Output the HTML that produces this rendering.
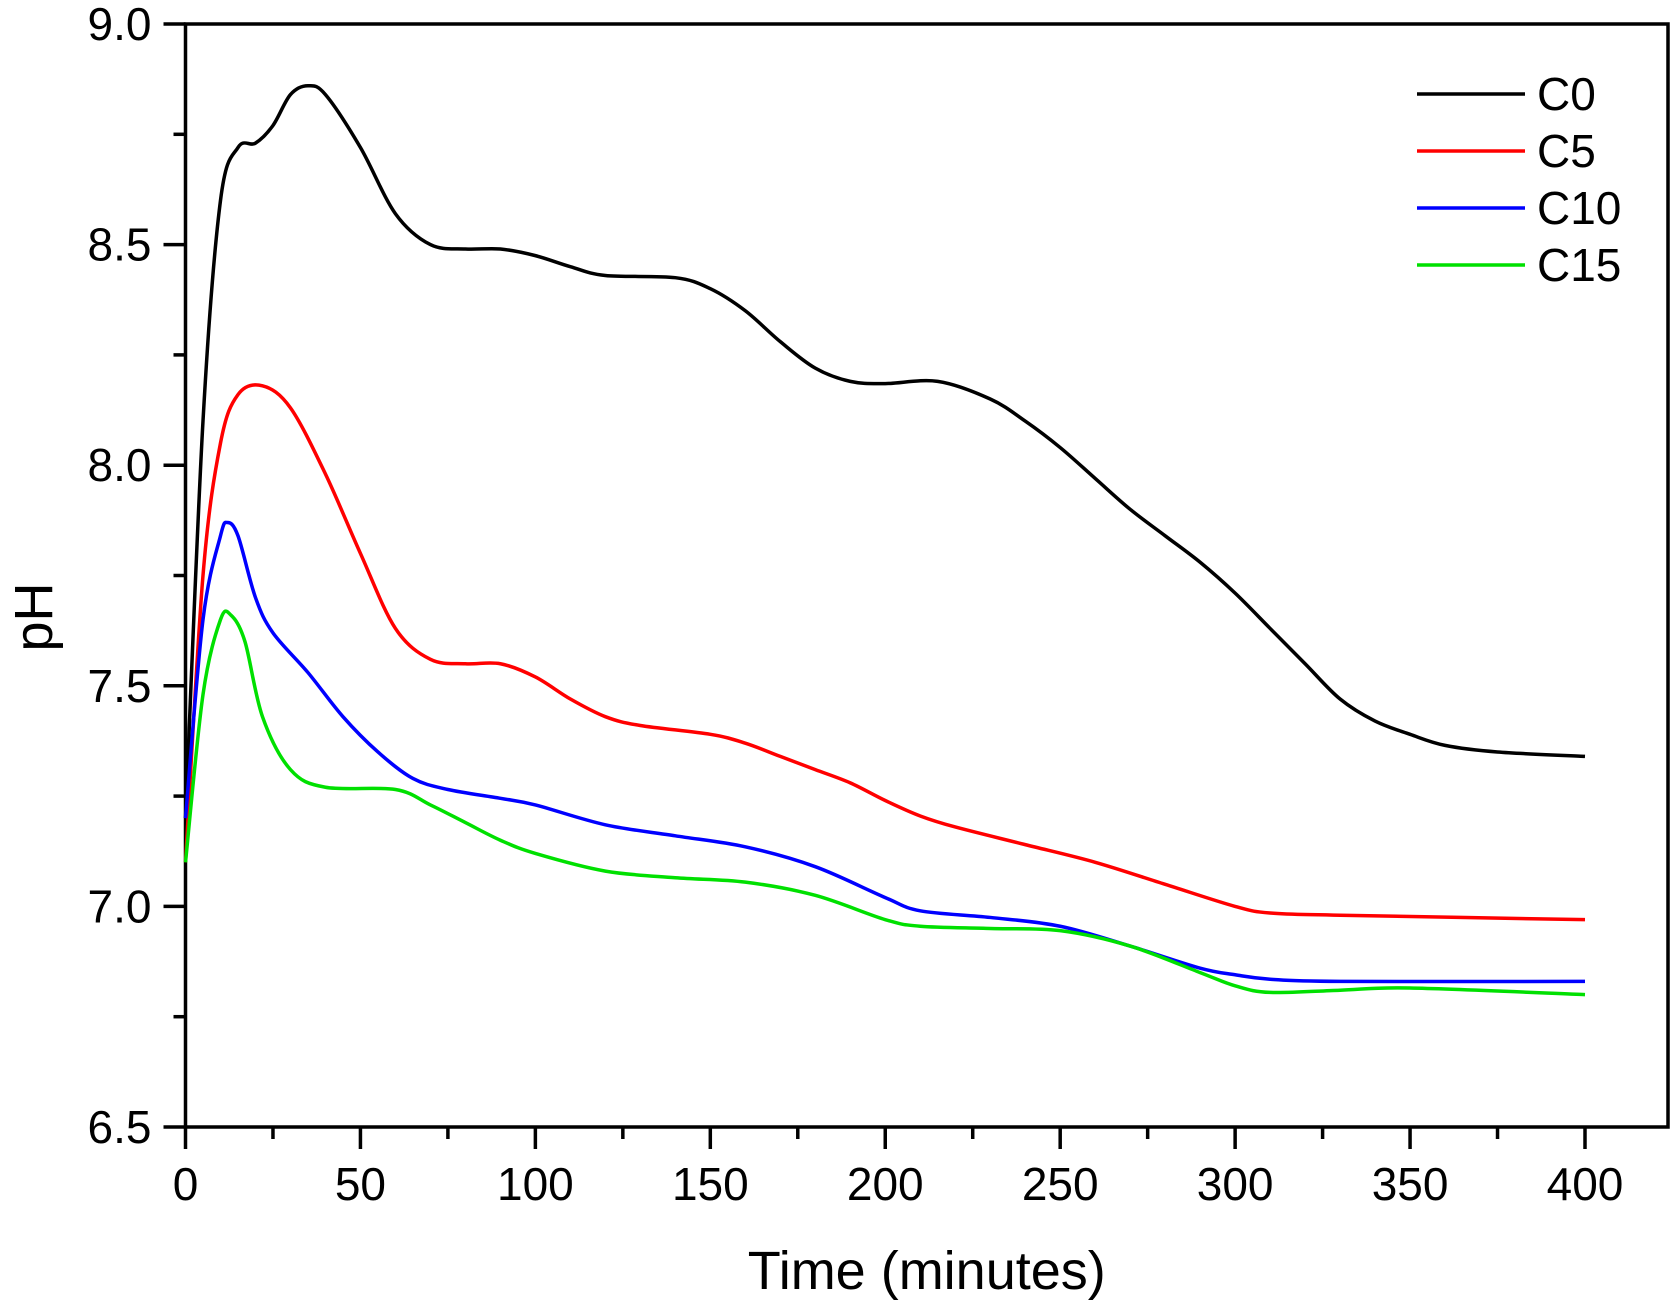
<!DOCTYPE html>
<html><head><meta charset="utf-8"><style>
body{margin:0;background:#fff}
text{font-family:"Liberation Sans",Arial,sans-serif;fill:#000}
</style></head><body>
<svg id="chart" width="1675" height="1305" viewBox="0 0 1675 1305" xmlns="http://www.w3.org/2000/svg">
<g id="axes"></g>
<g id="series"></g>
<g id="legend"></g>
</svg>
<script>
const c0T=[0,5,10,15,20,25,30,35,40,50,60,70,80,90,100,110,120,140,150,160,170,180,190,200,215,230,240,250,260,270,280,290,300,310,320,330,340,350,360,375,400];
const c0V=[7.2,8.1,8.6,8.72,8.73,8.77,8.84,8.86,8.84,8.72,8.57,8.5,8.49,8.49,8.475,8.45,8.43,8.425,8.4,8.35,8.28,8.22,8.19,8.185,8.19,8.15,8.1,8.04,7.97,7.9,7.84,7.78,7.71,7.63,7.55,7.47,7.42,7.39,7.365,7.35,7.34];
const c5T=[0,5,10,15,22,30,40,50,60,70,80,90,100,110,120,130,150,160,170,180,190,200,210,220,240,260,280,300,310,330,400];
const c5V=[7.1,7.75,8.05,8.16,8.18,8.13,7.98,7.8,7.63,7.56,7.55,7.55,7.52,7.47,7.43,7.41,7.39,7.37,7.34,7.31,7.28,7.24,7.205,7.18,7.14,7.1,7.05,7.0,6.985,6.98,6.97];
const c10T=[0,5,10,12,15,20,25,35,45,55,65,75,90,100,120,140,160,180,200,210,230,250,270,290,300,310,330,400];
const c10V=[7.2,7.65,7.84,7.87,7.84,7.7,7.62,7.53,7.43,7.35,7.29,7.265,7.245,7.23,7.185,7.16,7.135,7.09,7.02,6.99,6.975,6.955,6.91,6.86,6.845,6.835,6.83,6.83];
const c15T=[0,5,10,13,17,22,30,40,60,70,80,90,100,120,140,160,180,200,210,230,250,270,290,300,310,330,350,400];
const c15V=[7.1,7.48,7.65,7.66,7.6,7.43,7.31,7.27,7.265,7.23,7.19,7.15,7.12,7.08,7.065,7.055,7.025,6.97,6.955,6.95,6.945,6.91,6.85,6.82,6.805,6.81,6.815,6.8];
const seriesNames=["C0","C5","C10","C15"];
const seriesColors=["#000000","#ff0000","#0000ff","#00e000"];
const xTicks=[0,50,100,150,200,250,300,350,400];
const yTicks=[6.5,7.0,7.5,8.0,8.5,9.0];

const NS="http://www.w3.org/2000/svg";
const L=185.5,R=1668,T=24,B=1127;
const xs=t=>L+t*(1585-L)/400;
const ys=v=>B-(v-6.5)*(B-T)/2.5;
function mk(tag,attrs,parent){const e=document.createElementNS(NS,tag);for(const k in attrs)e.setAttribute(k,attrs[k]);parent.appendChild(e);return e;}
const ax=document.getElementById('axes');
let fr=mk('rect',{x:L,y:T,width:R-L,height:B-T,fill:'none',stroke:'#000','stroke-width':3.5},ax);


for(let t=0;t<=400;t+=25){
  const major=t%50===0;
  let tk=mk('line',{x1:xs(t),x2:xs(t),y1:B,y2:B+(major?22:12),stroke:'#000','stroke-width':3.5},ax);
  
  
}
xTicks.forEach(t=>{
  let tx=mk('text',{x:xs(t),y:B+73,'text-anchor':'middle','font-size':46},ax);tx.textContent=t;
  
  
});
for(let i=0;i<=10;i++){
  const v=6.5+i*0.25,major=i%2===0;
  let tk=mk('line',{x1:L-(major?22:12),x2:L,y1:ys(v),y2:ys(v),stroke:'#000','stroke-width':3.5},ax);
  
  
}
yTicks.forEach(v=>{
  let tx=mk('text',{x:L-34,y:ys(v)+16,'text-anchor':'end','font-size':46},ax);tx.textContent=v.toFixed(1);
  
  
});
let xt=mk('text',{x:(L+R)/2,y:1289,'text-anchor':'middle','font-size':54},ax);xt.textContent='Time (minutes)';


let yt=mk('text',{x:0,y:0,'text-anchor':'middle','font-size':54,transform:'translate(52,617) rotate(-90)'},ax);yt.textContent='pH';



function path(T_,V_){
  const p=T_.map((t,i)=>[xs(t),ys(V_[i])]);
  let d='M'+p[0][0]+','+p[0][1];
  for(let i=0;i<p.length-1;i++){
    const p0=p[i-1]||p[i],p1=p[i],p2=p[i+1],p3=p[i+2]||p[i+1];
    const c1=[p1[0]+(p2[0]-p0[0])/6,p1[1]+(p2[1]-p0[1])/6];
    const c2=[p2[0]-(p3[0]-p1[0])/6,p2[1]-(p3[1]-p1[1])/6];
    d+=`C${c1[0]},${c1[1]} ${c2[0]},${c2[1]} ${p2[0]},${p2[1]}`;
  }
  return d;
}
const sg=document.getElementById('series');
const data=[[c0T,c0V],[c5T,c5V],[c10T,c10V],[c15T,c15V]];
const lg=document.getElementById('legend');
data.forEach((s,i)=>{
  let pe=mk('path',{d:path(s[0],s[1]),fill:'none',stroke:seriesColors[i],'stroke-width':3.5},sg);
  
  
  const y=94+i*57;
  let ll=mk('line',{x1:1417,x2:1525,y1:y,y2:y,stroke:seriesColors[i],'stroke-width':3.5},lg);
  
  
  let lt=mk('text',{x:1537,y:y+16,'font-size':46},lg);lt.textContent=seriesNames[i];
  
  
});
</script>
</body></html>
